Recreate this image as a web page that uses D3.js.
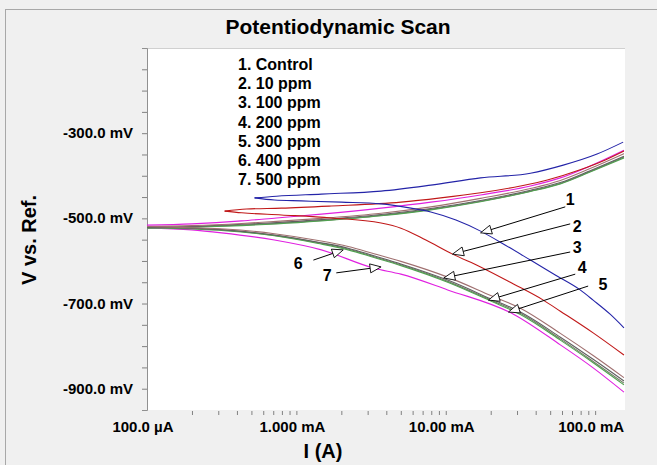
<!DOCTYPE html>
<html>
<head>
<meta charset="utf-8">
<script src="https://cdn.jsdelivr.net/npm/d3@7/dist/d3.min.js"></script>
<style>
html,body{margin:0;padding:0;background:#f0f0f0;}
svg{display:block;font-family:"Liberation Sans",Arial,sans-serif;font-weight:bold;}
</style>
</head>
<body>
<svg id="chart" width="657" height="465"></svg>
<script>
// ---- data: current (mA), potential (mV) ----
const legendLabels = ["1. Control","2. 10 ppm","3. 100 ppm","4. 200 ppm","5. 300 ppm","6. 400 ppm","7. 500 ppm"];
const xTickValues = [0.1, 1, 10, 100];
const xTickLabels = ["100.0 µA","1.000 mA","10.00 mA","100.0 mA"];
const yTickValues = [-300, -500, -700, -900];
const yTickLabels = ["-300.0 mV","-500.0 mV","-700.0 mV","-900.0 mV"];

// 1. Control
const anodic1 = [[0.525,-452],[0.736,-448],[1.47,-443],[3.69,-436],[7.94,-422],[17.1,-405],[36.9,-394],[61.2,-375],[103,-349],[154,-321]];
const cathodic1 = [[0.525,-452],[0.713,-457],[1.08,-459],[2.0,-462],[3.69,-466],[5.85,-476],[7.94,-485],[11.7,-504],[17.1,-530],[25.1,-563],[36.9,-598],[54.1,-633],[79.4,-668],[97,-692],[126,-725],[156,-757]];
// 2. 10 ppm
const anodic2 = [[0.331,-483],[0.464,-478],[0.794,-476],[1.71,-471],[5.01,-462],[9.26,-452],[17.1,-440],[31.6,-424],[47.9,-410],[79.4,-386],[117,-363],[156,-342]];
const cathodic2 = [[0.331,-483],[0.43,-487],[0.794,-492],[1.71,-499],[3.69,-511],[5.01,-523],[7.36,-551],[11.1,-584],[17.1,-614],[28.4,-654],[45.0,-692],[58.5,-718],[97,-769],[156,-821]];
// 3. 100 ppm
const anodic3 = [[0.1,-519],[0.2,-517],[0.43,-512],[0.736,-507],[1.47,-500],[3.69,-488],[7.94,-473],[17.1,-453],[36.9,-430],[58.5,-411],[92.6,-383],[156,-348]];
const cathodic3 = [[0.1,-519],[0.2,-522],[0.331,-525],[0.713,-536],[1.4,-552],[2.22,-566],[3.31,-583],[5.01,-601],[10.3,-638],[20.0,-681],[31.6,-711],[58.5,-770],[97,-822],[156,-874]];
// 4. 200 ppm
const anodic4 = [[0.1,-521],[0.2,-519],[0.43,-514],[0.736,-510],[1.47,-503],[3.69,-491],[7.94,-477],[17.1,-458],[36.9,-434],[58.5,-416],[92.6,-388],[156,-354]];
const cathodic4 = [[0.1,-520],[0.2,-523],[0.331,-527],[0.713,-539],[1.4,-556],[2.22,-570],[3.31,-588],[5.01,-607],[10.3,-645],[20.0,-689],[31.6,-720],[58.5,-779],[97,-831],[156,-882]];
// 5. 300 ppm
const anodic5 = [[0.1,-523],[0.2,-521],[0.43,-517],[0.736,-513],[1.47,-506],[3.69,-494],[7.94,-480],[17.1,-461],[36.9,-437],[58.5,-419],[92.6,-391],[156,-358]];
const cathodic5 = [[0.1,-522],[0.2,-525],[0.331,-529],[0.713,-541],[1.4,-559],[2.22,-574],[3.31,-592],[5.01,-611],[10.3,-650],[20.0,-694],[31.6,-726],[58.5,-786],[97,-839],[156,-891]];
// 6. 400 ppm
const anodic6 = [[0.1,-522],[0.2,-520],[0.43,-516],[0.736,-512],[1.47,-505],[3.69,-493],[7.94,-479],[17.1,-460],[36.9,-436],[58.5,-418],[92.6,-390],[156,-356]];
const cathodic6 = [[0.1,-521],[0.2,-524],[0.331,-528],[0.713,-540],[1.4,-557],[2.22,-572],[3.31,-590],[5.01,-609],[10.3,-648],[20.0,-692],[31.6,-723],[58.5,-783],[97,-836],[156,-887]];
// 7. 500 ppm
const anodic7 = [[0.1,-516],[0.2,-513],[0.43,-506],[0.736,-499],[1.47,-490],[3.69,-476],[7.94,-462],[17.1,-445],[36.9,-424],[58.5,-405],[92.6,-377],[156,-340]];
const cathodic7 = [[0.1,-523],[0.2,-527],[0.316,-534],[0.713,-551],[1.47,-574],[3.31,-617],[5.01,-631],[10.3,-668],[28.4,-725],[58.5,-797],[97,-851],[156,-908]];

// annotation arrows: label, tip [mA,mV], tail [mA,mV], label anchor [mA,mV]
const annoLabels = ["1","2","3","4","5","6","7"];
const annoTips  = [[17.1,-534],[11.1,-584],[9.7,-640],[19.3,-692],[26.3,-720],[2.06,-574],[3.69,-614]];
const annoTails = [[63.1,-473],[68.1,-513],[68.1,-579],[73.6,-631],[89.8,-659],[1.30,-598],[1.85,-628]];
const annoText  = [[68.1,-469],[75.9,-532],[75.9,-581],[81.9,-628],[113,-668],[1.03,-619],[1.61,-647]];

// ---- drawing ----
const series = [
  {a:anodic1,c:cathodic1,color:"#2424a8"},
  {a:anodic2,c:cathodic2,color:"#c01818"},
  {a:anodic3,c:cathodic3,color:"#a07070"},
  {a:anodic4,c:cathodic4,color:"#606060"},
  {a:anodic5,c:cathodic5,color:"#50a050"},
  {a:anodic6,c:cathodic6,color:"#6f7a62"},
  {a:anodic7,c:cathodic7,color:"#e020e0"}
];

const svg = d3.select("#chart");
const L = 147, R = 625, T = 48, B = 410;

// outer panel
svg.append("rect").attr("x",5.5).attr("y",9.5).attr("width",660).attr("height",470)
  .attr("fill","#f0f0f0").attr("stroke","#a8a8a8");

const x = d3.scaleLog().domain([0.1, 100*Math.pow(10,0.2)]).range([L, R]);
const y = d3.scaleLinear().domain([-950, -100]).range([B, T]);

// plot area
svg.append("rect").attr("x",L).attr("y",T).attr("width",R-L).attr("height",B-T).attr("fill","#fff");
svg.append("line").attr("x1",L).attr("x2",R).attr("y1",T+0.5).attr("y2",T+0.5).attr("stroke","#d0d0d0");

svg.append("clipPath").attr("id","clip").append("rect").attr("x",L).attr("y",T).attr("width",R-L).attr("height",B-T);

// y axis
const yAxis = d3.axisLeft(y).tickValues(d3.range(-900,-100,50)).tickSize(5).tickFormat("");
const gy = svg.append("g").attr("transform",`translate(${L},0)`).call(yAxis);
gy.select(".domain").attr("stroke","#909090");
gy.selectAll(".tick line").attr("stroke","#808080");
svg.selectAll(".ylab").data(yTickValues).enter().append("text")
  .attr("x",133).attr("y",d=>y(d)+5).attr("text-anchor","end")
  .attr("font-size",15).attr("fill","#000")
  .text((d,i)=>yTickLabels[i]);

// x axis
const minor = [];
[0.1,1,10,100].forEach(dec=>{for(let k=1;k<10;k++){const v=dec*k; if(v<=x.domain()[1]) minor.push(v);}});
const xAxis = d3.axisBottom(x).tickValues(minor.filter(v=>v>0.1)).tickSize(4).tickFormat("");
const gx = svg.append("g").attr("transform",`translate(0,${B+1})`).call(xAxis);
gx.select(".domain").remove();
gx.selectAll(".tick line").attr("stroke","#808080");
svg.selectAll(".xlab").data(xTickValues).enter().append("text")
  .attr("x",d=>x(d)-4).attr("y",432).attr("text-anchor","middle")
  .attr("font-size",15).attr("fill","#000")
  .text((d,i)=>xTickLabels[i]);

// curves
const line = d3.line().x(d=>x(d[0])).y(d=>y(d[1])).curve(d3.curveMonotoneX);
const gc = svg.append("g").attr("clip-path","url(#clip)");
series.slice().reverse().forEach(s=>{
  [s.a, s.c].forEach(arr=>{
    gc.append("path").attr("d",line(arr)).attr("fill","none")
      .attr("stroke",s.color).attr("stroke-width",1.1);
  });
});

// annotations
const ga = svg.append("g");
annoLabels.forEach((lab,i)=>{
  const tx = x(annoTips[i][0]), ty = y(annoTips[i][1]);
  const sx = x(annoTails[i][0]), sy = y(annoTails[i][1]);
  const dx = tx - sx, dy = ty - sy, len = Math.hypot(dx,dy);
  const ux = dx/len, uy = dy/len, nx = -uy, ny = ux;
  const bx = tx - 11*ux, by = ty - 11*uy;
  ga.append("line").attr("x1",sx).attr("y1",sy).attr("x2",bx).attr("y2",by)
    .attr("stroke","#000").attr("stroke-width",1);
  ga.append("polygon")
    .attr("points",[[tx,ty],[bx+4.5*nx,by+4.5*ny],[bx-4.5*nx,by-4.5*ny]].map(p=>p.join(",")).join(" "))
    .attr("fill","#fff").attr("stroke","#000").attr("stroke-width",0.9);
  ga.append("text").attr("x",x(annoText[i][0])).attr("y",y(annoText[i][1]))
    .attr("text-anchor","middle").attr("font-size",16).attr("fill","#000").text(lab);
});

// legend
svg.selectAll(".leg").data(legendLabels).enter().append("text")
  .attr("x",238).attr("y",(d,i)=>70+i*19.2).attr("font-size",16).attr("fill","#000")
  .text(d=>d);

// titles
svg.append("text").attr("x",338).attr("y",34).attr("text-anchor","middle")
  .attr("font-size",21).attr("fill","#000").text("Potentiodynamic Scan");
svg.append("text").attr("x",323).attr("y",458).attr("text-anchor","middle")
  .attr("font-size",20).attr("fill","#000").text("I (A)");
svg.append("text").attr("transform","translate(36,240) rotate(-90)").attr("text-anchor","middle")
  .attr("font-size",20).attr("fill","#000").text("V vs. Ref.");
</script>
</body>
</html>
